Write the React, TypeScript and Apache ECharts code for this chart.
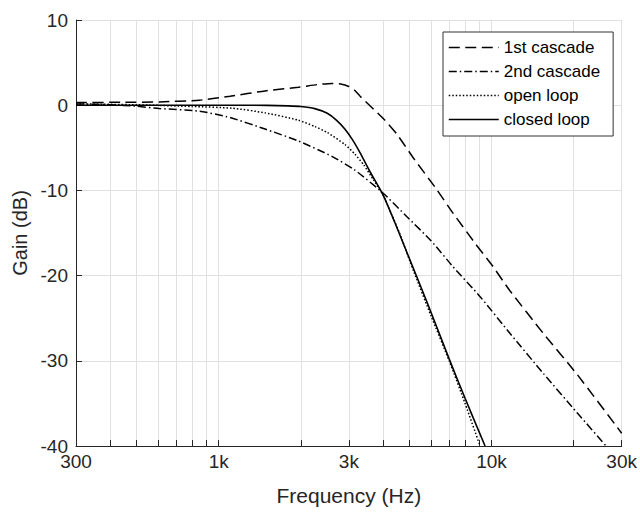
import React, { useEffect, useRef } from "react";
import * as echarts from "echarts";

// ---- axis data ----
const FREQ_MIN = 300;
const FREQ_MAX = 30000;
const FREQ_TICKS = [300, 400, 500, 600, 700, 800, 900, 1000, 2000, 3000, 4000, 5000, 6000, 7000, 8000, 9000, 10000, 20000, 30000];
const FREQ_LABEL_VALUES = [300, 1000, 3000, 10000, 30000];
const FREQ_LABEL_TEXT = ["300", "1k", "3k", "10k", "30k"];
const GAIN_MIN = -40;
const GAIN_MAX = 10;
const GAIN_STEP = 10;

// ---- series data ----
const SERIES_NAMES = ["1st cascade", "2nd cascade", "open loop", "closed loop"];

const cascade1Freq = [300, 450, 606, 850, 1100, 1480, 1960, 2300, 2600, 2800, 3000, 3150, 3300, 4050, 4500, 5200, 6300, 7200, 8800, 10000, 11700, 15500, 20600, 30000];
const cascade1Gain = [0.32, 0.34, 0.39, 0.59, 1.05, 1.68, 2.1, 2.42, 2.56, 2.5, 2.2, 1.75, 1.05, -1.7, -3.4, -6.3, -9.9, -12.6, -16.4, -18.7, -21.8, -26.8, -31.6, -38.5];

const cascade2Freq = [300, 400, 500, 606, 850, 1100, 1480, 1960, 2600, 3150, 4000, 4900, 6000, 7200, 9100, 11700, 15500, 20600, 26300];
const cascade2Gain = [0.15, 0.05, -0.12, -0.39, -0.7, -1.45, -2.8, -4.2, -6.0, -7.6, -10.3, -13.1, -15.9, -18.9, -22.5, -26.8, -31.5, -36.1, -40];

const openLoopFreq = [300, 500, 800, 1120, 1480, 1960, 2250, 2500, 2900, 3150, 3400, 3700, 4000, 4300, 4600, 5200, 6000, 7000, 8000, 9080];
const openLoopGain = [0.15, 0.05, -0.15, -0.35, -0.9, -1.76, -2.5, -3.2, -4.6, -5.7, -7.0, -8.8, -10.5, -12.8, -15.0, -19.6, -24.7, -30, -35, -40];

const closedLoopFreq = [300, 1000, 1500, 1800, 2000, 2250, 2500, 2700, 2900, 3100, 3300, 3600, 4000, 4400, 5000, 5800, 7000, 8000, 9470];
const closedLoopGain = [0, 0, -0.02, -0.08, -0.15, -0.4, -0.95, -1.75, -2.8, -4.1, -5.6, -7.9, -10.5, -13.6, -18.0, -23.1, -29.8, -34.4, -40];

const FONT = '"Liberation Sans", Arial, Helvetica, sans-serif';
const TEXT_COLOR = "#262626";

const lg = (f: number) => Math.log10(f);
const pairs = (fs: number[], gs: number[]) => fs.map((f, i) => [lg(f), gs[i]]);

function freqLabel(v: number): string {
  for (let i = 0; i < FREQ_LABEL_VALUES.length; i++) {
    if (Math.abs(lg(FREQ_LABEL_VALUES[i]) - v) < 1e-6) return FREQ_LABEL_TEXT[i];
  }
  return "";
}

function buildOption(): any {
  const mk = (name: string, data: number[][], type: any, width: number) => ({
    name,
    type: "line",
    data,
    symbol: "none",
    showSymbol: false,
    smooth: 0.2,
    color: "#000",
    lineStyle: { color: "#000", width, type, cap: "butt" },
    emphasis: { disabled: true },
    z: 3,
  });
  return {
    animation: false,
    backgroundColor: "#fff",
    grid: { left: 76, right: 14, top: 20, bottom: 66, containLabel: false },
    xAxis: {
      type: "value",
      min: lg(FREQ_MIN),
      max: lg(FREQ_MAX),
      axisLine: { show: true, onZero: false, lineStyle: { color: TEXT_COLOR, width: 1 } },
      axisTick: { show: true, inside: true, length: 6, customValues: FREQ_TICKS.map(lg), lineStyle: { color: TEXT_COLOR, width: 1 } },
      axisLabel: {
        customValues: FREQ_LABEL_VALUES.map(lg),
        formatter: (v: number) => freqLabel(v),
        fontSize: 19,
        color: TEXT_COLOR,
        fontFamily: FONT,
        margin: 6,
      },
      splitLine: { show: true, lineStyle: { color: "#e0e0e0", width: 1 } },
      name: "Frequency (Hz)",
      nameLocation: "middle",
      nameGap: 39,
      nameTextStyle: { fontSize: 21, color: TEXT_COLOR, fontFamily: FONT },
    },
    yAxis: {
      type: "value",
      min: GAIN_MIN,
      max: GAIN_MAX,
      interval: GAIN_STEP,
      axisLine: { show: true, onZero: false, lineStyle: { color: TEXT_COLOR, width: 1 } },
      axisTick: { show: true, inside: true, length: 6, lineStyle: { color: TEXT_COLOR, width: 1 } },
      axisLabel: { fontSize: 19, color: TEXT_COLOR, fontFamily: FONT, margin: 8 },
      splitLine: { show: true, lineStyle: { color: "#e0e0e0", width: 1 } },
      name: "Gain (dB)",
      nameLocation: "middle",
      nameGap: 41,
      nameTextStyle: { fontSize: 20, color: TEXT_COLOR, fontFamily: FONT },
    },
    legend: {
      orient: "vertical",
      left: 443,
      top: 32,
      padding: [7, 13, 8, 5],
      itemWidth: 50,
      itemHeight: 14,
      itemGap: 7,
      backgroundColor: "#fff",
      borderColor: "#333",
      borderWidth: 1,
      borderRadius: 0,
      selectedMode: false,
      itemStyle: { opacity: 0, borderWidth: 0 },
      lineStyle: { width: 1.5 },
      textStyle: { fontSize: 17, color: "#000", fontFamily: FONT },
      data: SERIES_NAMES,
    },
    series: [
      mk(SERIES_NAMES[0], pairs(cascade1Freq, cascade1Gain), [11, 5.5], 1.5),
      mk(SERIES_NAMES[1], pairs(cascade2Freq, cascade2Gain), [8, 3, 1.5, 3], 1.5),
      mk(SERIES_NAMES[2], pairs(openLoopFreq, openLoopGain), [1.5, 2], 1.5),
      mk(SERIES_NAMES[3], pairs(closedLoopFreq, closedLoopGain), "solid", 1.6),
    ],
  };
}

export default function App() {
  const ref = useRef<HTMLDivElement>(null);
  useEffect(() => {
    if (!ref.current) return;
    const chart = echarts.init(ref.current, null, { renderer: "svg" });
    chart.setOption(buildOption());
    return () => chart.dispose();
  }, []);
  return (
    <div
      ref={ref}
      style={{ position: "fixed", left: 0, top: 0, width: 640, height: 512, background: "#fff" }}
    />
  );
}
